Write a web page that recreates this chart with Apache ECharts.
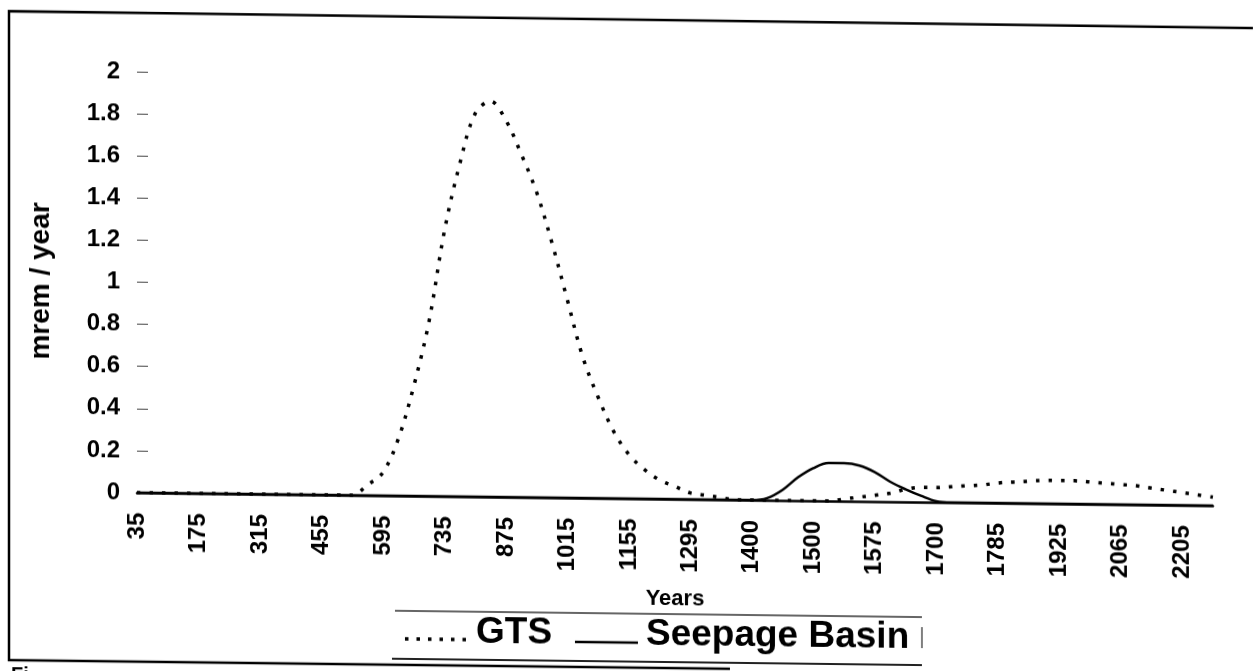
<!DOCTYPE html>
<html>
<head>
<meta charset="utf-8">
<script src="https://cdn.jsdelivr.net/npm/echarts@6/dist/echarts.min.js"></script>
<style>
  html, body { margin: 0; padding: 0; background: #fff; overflow: hidden; }
  #chart { width: 1253px; height: 671px; transform: skewY(0.69deg); transform-origin: 0 0; }
</style>
</head>
<body>
<div id="chart"></div>
<script>
// Category labels (years); every 4th one is shown on the axis
const years = [
  '35','70','105','140','175','210','245','280','315','350','385','420','455','490','525','560',
  '595','630','665','700','735','770','805','840','875','910','945','980','1015','1050','1085','1120',
  '1155','1190','1225','1260','1295','1321','1348','1374','1400','1425','1450','1475','1500','1519','1538','1556',
  '1575','1606','1638','1669','1700','1721','1743','1764','1785','1820','1855','1890','1925','1960','1995','2030',
  '2065','2100','2135','2170','2205','2240','2275'
];

// GTS dose (mrem / year)
const gts = [
  0,0,0,0,0,0,0,0,0,0,0,0,0,0,0,0.05,
  0.11,0.27,0.52,0.83,1.26,1.58,1.82,1.88,1.79,1.63,1.45,1.21,0.94,0.67,0.48,0.32,
  0.21,0.14,0.09,0.06,0.03,0.02,0.01,0,0,0,0,0,0,0,0.01,0.02,
  0.03,0.04,0.06,0.07,0.07,0.075,0.08,0.085,0.095,0.10,0.105,0.11,0.11,0.11,0.105,0.10,
  0.095,0.09,0.08,0.07,0.06,0.05,0.04
];

// Seepage Basin dose (mrem / year)
const seepage = [
  0,0,0,0,0,0,0,0,0,0,0,0,0,0,0,0,
  0,0,0,0,0,0,0,0,0,0,0,0,0,0,0,0,
  0,0,0,0,0,0,0,0,0,0.01,0.05,0.11,0.155,0.18,0.18,0.17,
  0.14,0.095,0.06,0.03,0.005,0,0,0,0,0,0,0,0,0,0,0,
  0,0,0,0,0,0,0
];

const seriesNames = ['GTS', 'Seepage Basin'];
const FONT = '"Liberation Sans", Arial, sans-serif';

const chart = echarts.init(document.getElementById('chart'), null, { renderer: 'canvas' });

chart.setOption({
  backgroundColor: '#ffffff',
  animation: false,
  grid: { left: 137, right: 40, top: 70, bottom: 180, outerBoundsMode: 'none' },
  xAxis: {
    type: 'category',
    data: years,
    boundaryGap: false,
    name: 'Years',
    nameLocation: 'middle',
    nameGap: 89,
    nameTextStyle: { fontFamily: FONT, fontWeight: 'bold', fontSize: 22, color: '#000' },
    axisLine: { show: true, lineStyle: { color: '#000', width: 2.5 } },
    axisTick: { show: false },
    axisLabel: {
      interval: 3,
      rotate: 90,
      margin: 20,
      fontFamily: FONT,
      fontWeight: 'bold',
      fontSize: 24,
      color: '#000'
    },
    splitLine: { show: false }
  },
  yAxis: {
    type: 'value',
    min: 0,
    max: 2,
    interval: 0.2,
    name: 'mrem / year',
    nameLocation: 'middle',
    nameRotate: 90,
    nameGap: 82,
    nameTextStyle: { fontFamily: FONT, fontWeight: 'bold', fontSize: 28, color: '#000' },
    axisLine: { show: false },
    axisTick: { show: true, inside: true, length: 11, lineStyle: { color: '#444', width: 1 } },
    axisLabel: {
      margin: 17,
      fontFamily: FONT,
      fontWeight: 'bold',
      fontSize: 24,
      color: '#000'
    },
    splitLine: { show: false }
  },
  series: [
    {
      name: seriesNames[0],
      type: 'line',
      data: gts,
      smooth: 0.35,
      symbol: 'none',
      z: 3,
      lineStyle: { color: '#000', width: 3.5, type: [3.5, 9], cap: 'butt' }
    },
    {
      name: seriesNames[1],
      type: 'line',
      data: seepage,
      smooth: 0.35,
      symbol: 'none',
      z: 2,
      lineStyle: { color: '#000', width: 2.5, type: 'solid' }
    }
  ],
  graphic: [
    // outer frame (left, top, bottom)
    { type: 'polyline', shape: { points: [[1253, 13], [9, 11], [9, 660], [730, 660]] },
      style: { stroke: '#000', lineWidth: 2.5, fill: null }, silent: true },
    // legend rules
    { type: 'line', shape: { x1: 395, y1: 606, x2: 922, y2: 606 },
      style: { stroke: '#333', lineWidth: 1.5 }, silent: true },
    { type: 'line', shape: { x1: 392, y1: 654, x2: 922, y2: 654 },
      style: { stroke: '#222', lineWidth: 2 }, silent: true },
    { type: 'line', shape: { x1: 922, y1: 616, x2: 922, y2: 637 },
      style: { stroke: '#555', lineWidth: 1.5 }, silent: true },
    // legend icons
    { type: 'line', shape: { x1: 405, y1: 634, x2: 470, y2: 634 },
      style: { stroke: '#000', lineWidth: 3.5, lineDash: [3.5, 8] }, silent: true },
    { type: 'line', shape: { x1: 575, y1: 635, x2: 638, y2: 635 },
      style: { stroke: '#000', lineWidth: 2.5 }, silent: true },
    // legend texts
    { type: 'text', x: 476, y: 627, silent: true,
      style: { text: seriesNames[0], font: 'bold 37px ' + FONT, fill: '#000', align: 'left', verticalAlign: 'middle' } },
    { type: 'text', x: 646, y: 627, silent: true,
      style: { text: seriesNames[1], font: 'bold 37px ' + FONT, fill: '#000', align: 'left', verticalAlign: 'middle' } },
    // cut-off caption at the very bottom
    { type: 'text', x: 11, y: 665, silent: true,
      style: { text: 'Fi', font: 'bold 20px ' + FONT, fill: '#000', align: 'left', verticalAlign: 'top' } }
  ]
});
</script>
</body>
</html>
